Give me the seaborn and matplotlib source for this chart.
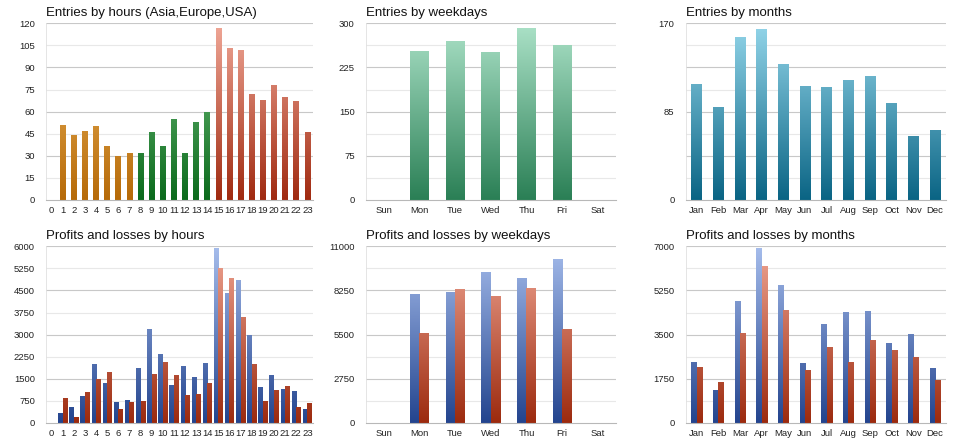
import matplotlib
matplotlib.use("Agg")
import matplotlib.pyplot as plt
from matplotlib.colors import LinearSegmentedColormap
import seaborn as sns
import numpy as np
import pandas as pd

# ---- data ----
hours = [str(h) for h in range(24)]
hour_region = ["Asia"] * 8 + ["Europe"] * 7 + ["USA"] * 9
hour_entries = [0, 51, 44, 47, 50, 37, 30, 32, 32, 46, 37, 55, 32, 53, 60,
                117, 103, 102, 72, 68, 78, 70, 67, 46]
hour_profit = [0, 352, 556, 907, 2019, 1361, 703, 771, 1860, 3209, 2336, 1293,
               1950, 1576, 2053, 5942, 4411, 4853, 3005, 1213, 1622, 1157, 1077, 488]
hour_loss = [0, 839, 215, 1043, 1486, 1724, 465, 726, 760, 1678, 2087, 1633,
             941, 998, 1372, 5250, 4922, 3595, 1996, 737, 1134, 1247, 556, 680]

weekdays = ["Sun", "Mon", "Tue", "Wed", "Thu", "Fri", "Sat"]
weekday_entries = [0, 253, 270, 251, 292, 263, 0]
weekday_profit = [0, 8030, 8155, 9380, 9027, 10230, 0]
weekday_loss = [0, 5603, 8342, 7886, 8404, 5852, 0]

months = ["Jan", "Feb", "Mar", "Apr", "May", "Jun", "Jul", "Aug", "Sep", "Oct", "Nov", "Dec"]
month_entries = [112, 89, 157, 165, 131, 110, 109, 115, 119, 93, 62, 67]
month_profit = [2404, 1294, 4821, 6921, 5468, 2364, 3923, 4398, 4438, 3170, 3540, 2166]
month_loss = [2206, 1611, 3566, 6235, 4465, 2100, 3025, 2404, 3276, 2906, 2615, 1717]

# gradients (bottom colour, top colour)
ORANGE = ("#b66a08", "#f2bc66")
GREEN = ("#0b6a1c", "#78c482")
RED_H = ("#a02a10", "#f0a898")
SEA = ("#2a7f55", "#ace2c8")
TEAL = ("#0a6484", "#94d6ea")
BLUE = ("#23448e", "#a6bdec")
RED = ("#9c2a0e", "#f0a694")

sns.set_theme(style="white")
plt.rcParams["font.family"] = ["Liberation Sans", "DejaVu Sans"]


def gradient_bars(ax, grads, ymax):
    # colour each bar with a vertical gradient spanning the axis height
    for cont, (c0, c1) in zip(ax.containers, grads):
        cmap = LinearSegmentedColormap.from_list("g", [c0, c1])
        for bar in cont:
            h = bar.get_height()
            if not np.isfinite(h) or h <= 0:
                continue
            x0, w = bar.get_x(), bar.get_width()
            grad = np.linspace(0, 1, 256).reshape(-1, 1)
            im = ax.imshow(grad, extent=(x0, x0 + w, 0, ymax), origin="lower",
                           aspect="auto", cmap=cmap, vmin=0, vmax=1, zorder=2)
            im.set_clip_path(bar)
            bar.set_facecolor("none")
            bar.set_edgecolor("none")


def style_axis(ax, title, ncat, ymax, label_step, grid_step, dark_step):
    ax.set_xlim(-0.5, ncat - 0.5)
    ax.set_ylim(0, ymax)
    for v in np.arange(grid_step, ymax + grid_step / 2, grid_step):
        dark = abs(v / dark_step - round(v / dark_step)) < 1e-6
        ax.axhline(v, color="#c8c8c8" if dark else "#e8e8e8", lw=0.8, zorder=0)
    ticks = np.arange(0, ymax + label_step / 2, label_step)
    ax.set_yticks(ticks)
    ax.set_yticklabels([f"{t:g}" for t in ticks])
    ax.set_xticks(np.arange(-0.5, ncat, 1.0), minor=True)
    ax.tick_params(axis="x", which="major", length=0, pad=4, labelsize=6.8, colors="#222")
    ax.tick_params(axis="x", which="minor", length=3, width=0.6, color="#b0b0b0", direction="out")
    ax.tick_params(axis="y", length=0, pad=8, labelsize=6.8, colors="#222")
    for s in ["top", "right"]:
        ax.spines[s].set_visible(False)
    ax.spines["left"].set_color("#e0e0e0")
    ax.spines["left"].set_linewidth(0.6)
    ax.spines["bottom"].set_color("#b8b8b8")
    ax.spines["bottom"].set_linewidth(0.8)
    ax.set_xlabel("")
    ax.set_ylabel("")
    ax.set_title(title, loc="left", fontsize=9.5, pad=5, color="#111")


fig = plt.figure(figsize=(9.6, 4.46), dpi=100)
top_b, bot_b, h = 0.5516, 0.0516, 0.3961
cols = [(0.0479, 0.278), (0.381, 0.2604), (0.7143, 0.2711)]

# --- Entries by hours ---
ax = fig.add_axes([cols[0][0], top_b, cols[0][1], h])
df = pd.DataFrame({"hour": hours, "region": hour_region, "entries": hour_entries})
sns.barplot(data=df, x="hour", y="entries", hue="region", dodge=False, order=hours,
            hue_order=["Asia", "Europe", "USA"], width=0.5, legend=False, ax=ax)
gradient_bars(ax, [ORANGE, GREEN, RED_H], 120)
style_axis(ax, "Entries by hours (Asia,Europe,USA)", 24, 120, 15, 15, 30)

# --- Entries by weekdays ---
ax = fig.add_axes([cols[1][0], top_b, cols[1][1], h])
df = pd.DataFrame({"day": weekdays, "entries": weekday_entries})
sns.barplot(data=df, x="day", y="entries", order=weekdays, width=0.52, ax=ax)
gradient_bars(ax, [SEA], 300)
style_axis(ax, "Entries by weekdays", 7, 300, 75, 37.5, 75)

# --- Entries by months ---
ax = fig.add_axes([cols[2][0], top_b, cols[2][1], h])
df = pd.DataFrame({"month": months, "entries": month_entries})
sns.barplot(data=df, x="month", y="entries", order=months, width=0.5, ax=ax)
gradient_bars(ax, [TEAL], 170)
style_axis(ax, "Entries by months", 12, 170, 85, 21.25, 42.5)

# --- Profits and losses ---
pl_sets = [
    (hours, hour_profit, hour_loss, "Profits and losses by hours", 6000, 750, 750, 1500, 0.8),
    (weekdays, weekday_profit, weekday_loss, "Profits and losses by weekdays", 11000, 2750, 1375, 2750, 0.52),
    (months, month_profit, month_loss, "Profits and losses by months", 7000, 1750, 875, 1750, 0.5),
]
for (x0, w), (cats, prof, loss, title, ymax, lstep, gstep, dstep, bw) in zip(cols, pl_sets):
    ax = fig.add_axes([x0, bot_b, w, h])
    df = pd.DataFrame({
        "cat": cats * 2,
        "kind": ["Profit"] * len(cats) + ["Loss"] * len(cats),
        "value": prof + loss,
    })
    sns.barplot(data=df, x="cat", y="value", hue="kind", order=cats,
                hue_order=["Profit", "Loss"], width=bw, legend=False, ax=ax)
    gradient_bars(ax, [BLUE, RED], ymax)
    style_axis(ax, title, len(cats), ymax, lstep, gstep, dstep)

fig.savefig("out.png", dpi=100)
